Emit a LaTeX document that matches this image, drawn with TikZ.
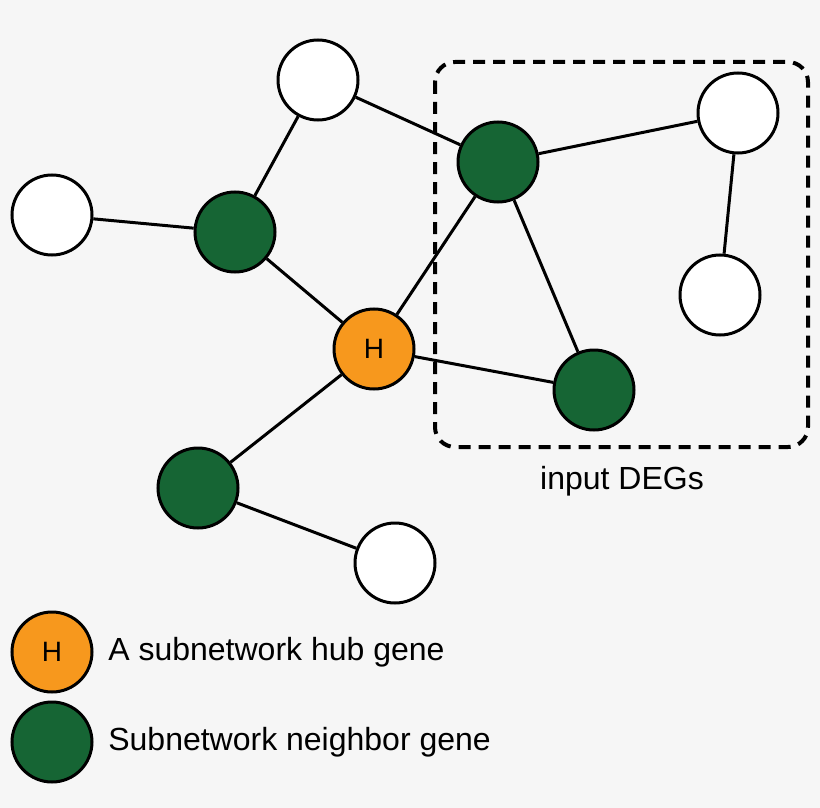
\documentclass[tikz,border=0pt]{standalone}
\usepackage{fontspec}
\setmainfont{Liberation Sans}
\usetikzlibrary{positioning}
\definecolor{gen}{RGB}{22,101,52}
\definecolor{hub}{RGB}{247,152,29}
\definecolor{bg}{RGB}{246,246,246}
\tikzset{
  big/.style={font=\fontsize{32}{36}\selectfont},
  gene/.style={draw,circle,line width=3pt,minimum size=80pt,inner sep=0pt,font=\fontsize{28}{32}\selectfont},
  plain/.style={gene,fill=white},
  nbr/.style={gene,fill=gen},
  hubg/.style={gene,fill=hub},
}
\begin{document}
\begin{tikzpicture}[x=1pt,y=-1pt,line width=3pt]
        \fill[bg] (0,0) rectangle (820,808);
		\node[plain] (W1) at (318,80) {};
		\node[plain] (W2) at (52,215) {};
		\node[nbr] (G1) at (235,232) {};
		\node[hubg] (H) at (374,349) {H};
		\node[nbr] (G2) at (498,162) {};
		\node[plain] (W3) at (738,113) {};
		\node[plain] (W4) at (720,295) {};
		\node[nbr] (G3) at (594,390) {};
		\node[nbr] (G4) at (198,488) {};
		\node[plain] (W5) at (395,563) {};
		\draw (W1) -- (G1);
		\draw (W1) -- (G2);
		\draw (W2) -- (G1);
		\draw (G1) -- (H);
		\draw (H) -- (G2);
		\draw (H) -- (G3);
		\draw (G2) -- (G3);
		\draw (G2) -- (W3);
		\draw (W3) -- (W4);
		\draw (H) -- (G4);
		\draw (G4) -- (W5);
		\draw[line width=4pt,dash pattern=on 12pt off 8pt,rounded corners=20pt] (435,62) rectangle (808,447);
		\node[big] (lab) at (622,481) {input DEGs};
		\node[hubg] (LH) at (52,652) {H};
		\node[nbr] (LG) at (52,742) {};
		\node[right=10pt of LH,big] (tH) {A subnetwork hub gene};
		\node[right=10pt of LG,big] (tG) {Subnetwork neighbor gene};
\end{tikzpicture}
\end{document}
